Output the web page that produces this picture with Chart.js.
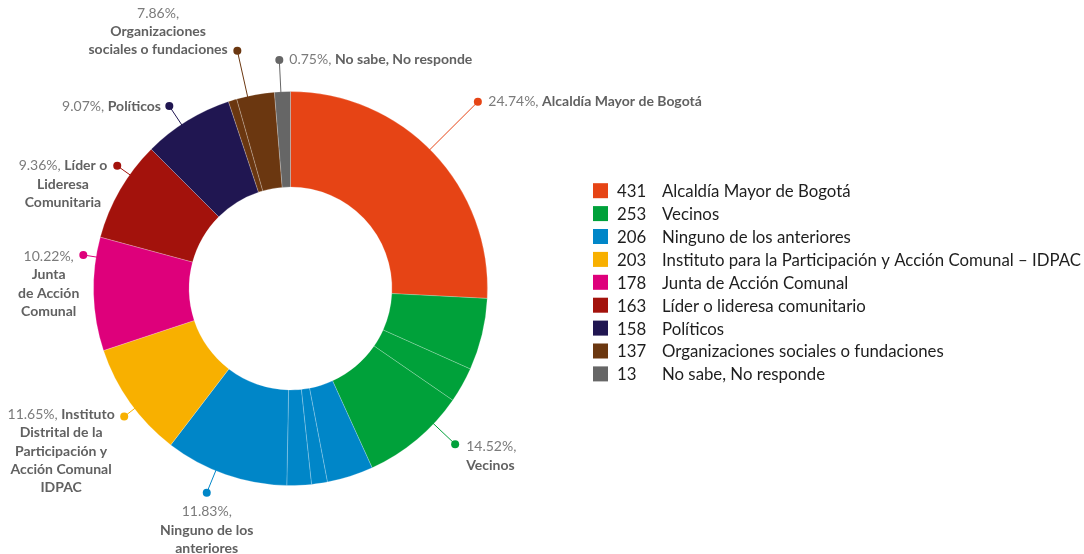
<!DOCTYPE html>
<html lang="es">
<head>
<meta charset="utf-8">
<title>Actores</title>
<script src="https://cdn.jsdelivr.net/npm/chart.js@4.4.1/dist/chart.umd.min.js"></script>
<style>
    html, body { margin: 0; padding: 0; background: #fff; }
    #wrap { width: 1084px; height: 554px; position: relative; }
</style>
</head>
<body>
<div id="wrap"><canvas id="chart" width="1084" height="554"></canvas></div>
<script>
const categories = [
    'Alcaldía Mayor de Bogotá',
    'Vecinos',
    'Ninguno de los anteriores',
    'Instituto para la Participación y Acción Comunal – IDPAC',
    'Junta de Acción Comunal',
    'Líder o lideresa comunitario',
    'Políticos',
    'Organizaciones sociales o fundaciones',
    'No sabe, No responde'
];
const counts = [431, 253, 206, 203, 178, 163, 158, 137, 13];
const colors = ['#E64415', '#00A13A', '#0086C8', '#F8B000', '#DE007B', '#A3120C', '#201651', '#6B3710', '#666666'];

// the ring as it is drawn in the picture: sub-segments (% of the circle) and their category
const ringShares = [25.8, 5.9, 2.9, 8.6, 3.8, 1.3, 2.0, 10.1, 9.5, 9.3, 8.3, 7.4, 0.7, 3.1, 1.3];
const ringCategory = [0, 1, 1, 1, 2, 2, 2, 2, 3, 4, 5, 6, 7, 7, 8];

// callout texts (bold part, line by line)
const calloutNames = [
    ['Alcaldía Mayor de Bogotá'],
    ['Vecinos'],
    ['Ninguno de los', 'anteriores'],
    ['Instituto', 'Distrital de la', 'Participación y', 'Acción Comunal', 'IDPAC'],
    ['Junta', 'de Acción', 'Comunal'],
    ['Líder o', 'Lideresa', 'Comunitaria'],
    ['Políticos'],
    ['Organizaciones', 'sociales o fundaciones'],
    ['No sabe, No responde']
];
const pctOwnLine = [false, true, true, false, true, false, false, true, false];

const total = counts.reduce((sum, v) => sum + v, 0);
const pctText = counts.map(v => (v / total * 100).toFixed(2) + '%,');

// where each callout dot sits: angle (deg, clockwise from top), distance from centre
const calloutPos = [
    { angle: 45.1, dist: 264.5, side: 'right', dy: 0, gap: 10.5 },
    { angle: 133.4, dist: 226.6, side: 'right', dy: 2.5, gap: 11 },
    { angle: 202.3, dist: 220.7, side: 'below', dy: 19, gap: 0 },
    { angle: 232.4, dist: 209.9, side: 'left', dy: -2, gap: 9.5 },
    { angle: 279.2, dist: 209.9, side: 'left', dy: 1.5, gap: 4 },
    { angle: 305.3, dist: 212.3, side: 'left', dy: 0, gap: 10 },
    { angle: 326.4, dist: 219, side: 'left', dy: 0, gap: 8.3 },
    { angle: 347.4, dist: 243.7, side: 'left', dy: -37.4, gap: 9.6 },
    { angle: 357.2, dist: 228.8, side: 'right', dy: 0, gap: 10 }
];

const FONT = 'Lato, "Open Sans", sans-serif';

const calloutPlugin = {
    id: 'callouts',
    afterDraw(chart) {
        const ctx = chart.ctx;
        const arc = chart.getDatasetMeta(0).data[0];
        const cx = arc.x, cy = arc.y, R = arc.outerRadius;
        const lh = 18.3;

        ctx.save();
        ctx.textBaseline = 'middle';
        calloutPos.forEach((p, i) => {
            const a = p.angle * Math.PI / 180;
            const sx = cx + (R - 2) * Math.sin(a), sy = cy - (R - 2) * Math.cos(a);
            const dx = cx + p.dist * Math.sin(a), dy = cy - p.dist * Math.cos(a);

            ctx.strokeStyle = colors[i];
            ctx.lineWidth = 1;
            ctx.beginPath();
            ctx.moveTo(sx, sy);
            ctx.lineTo(dx, dy);
            ctx.stroke();
            ctx.fillStyle = colors[i];
            ctx.beginPath();
            ctx.arc(dx, dy, 4, 0, Math.PI * 2);
            ctx.fill();

            // build lines of [text, bold] pieces
            let lines;
            if (pctOwnLine[i]) {
                lines = [[[pctText[i], false]]].concat(calloutNames[i].map(n => [[n, true]]));
            } else {
                lines = [[[pctText[i] + ' ', false], [calloutNames[i][0], true]]]
                    .concat(calloutNames[i].slice(1).map(n => [[n, true]]));
            }
            const fontOf = bold => (bold ? 'bold ' : '') + '14px ' + FONT;
            const widths = lines.map(line => line.reduce((w, piece) => {
                ctx.font = fontOf(piece[1]);
                return w + ctx.measureText(piece[0]).width;
            }, 0));
            const blockW = Math.max(...widths);

            lines.forEach((line, k) => {
                const y = dy + p.dy + k * lh;
                let x;
                if (p.side === 'right') x = dx + p.gap;
                else if (p.side === 'left') x = dx - p.gap - blockW / 2 - widths[k] / 2;
                else x = dx - widths[k] / 2;
                line.forEach(piece => {
                    ctx.font = fontOf(piece[1]);
                    ctx.fillStyle = piece[1] ? '#616161' : '#7b7b7b';
                    ctx.textAlign = 'left';
                    ctx.fillText(piece[0], x, y);
                    x += ctx.measureText(piece[0]).width;
                });
            });
        });

        // legend with counts
        categories.forEach((name, i) => {
            const y = 190.7 + i * 22.9;
            ctx.fillStyle = colors[i];
            ctx.fillRect(593, y - 7.5, 15, 15);
            ctx.fillStyle = '#1e1e1e';
            ctx.font = '16.8px ' + FONT;
            ctx.textAlign = 'left';
            ctx.fillText(String(counts[i]), 617, y + 1);
            ctx.fillText(name, 662, y + 1);
        });
        ctx.restore();
    }
};

new Chart(document.getElementById('chart'), {
    type: 'doughnut',
    data: {
        labels: ringCategory.map(c => categories[c]),
        datasets: [{
            data: ringShares,
            backgroundColor: ringCategory.map(c => colors[c]),
            borderColor: 'rgba(255,255,255,0.22)',
            borderWidth: 1
        }]
    },
    options: {
        responsive: false,
        animation: false,
        cutout: '51.5%',
        layout: { padding: { left: 93, right: 596, top: 91, bottom: 68 } },
        plugins: {
            legend: { display: false },
            tooltip: { enabled: false }
        }
    },
    plugins: [calloutPlugin]
});
</script>
</body>
</html>
